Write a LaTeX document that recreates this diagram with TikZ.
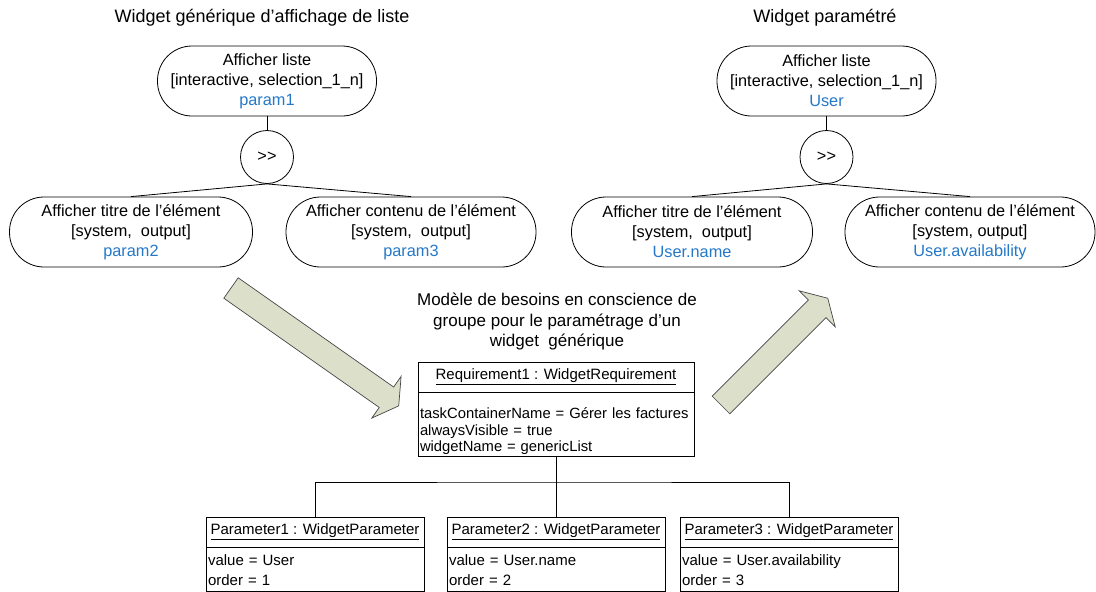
\documentclass[tikz,border=0pt]{standalone}
\usepackage{fontspec}
\setmainfont{Liberation Sans}
\usepackage{tikz}
\usetikzlibrary{positioning,calc}
\usepackage{xcolor}
\definecolor{parblue}{RGB}{36,120,200}
\definecolor{arrowfill}{RGB}{220,224,202}
\definecolor{arrowline}{RGB}{70,70,70}

\begin{document}
\begin{tikzpicture}[
    x=1pt, y=-1pt, line width=0.8pt,
    task/.style={draw, rounded corners=34.5pt, minimum height=70pt, align=center, inner sep=2pt, font=\fontsize{16.3}{20}\selectfont},
    op/.style={draw, circle, minimum size=53pt, inner sep=0pt, font=\fontsize{16.3}{20}\selectfont},
    ttl/.style={font=\fontsize{18}{22}\selectfont},
    objhead/.style={draw, minimum height=30pt, inner sep=0pt, font=\fontsize{15}{18}\selectfont},
    objbody/.style 2 args={draw, inner sep=2pt, align=left, font=\fontsize{#1}{#2}\selectfont},
    bigarrow/.style={draw=arrowline, fill=arrowfill, line width=0.7pt, line join=miter},
  ]
  \useasboundingbox (0,0) rectangle (1096,592);

  % generic widget
  \node[ttl] (titleL) at (262,18) {Widget générique d’affichage de liste};
  \node[task, minimum width=219pt] (L0) at (267,81) {Afficher liste\\{[}interactive, selection\_1\_n]\\\textcolor{parblue}{param1}};
  \node[op] (opL) at (267,157) {{>}{>}};
  \node[task, minimum width=243pt] (L1) at (131,232) {Afficher titre de l’élément\\{[}system, \ output]\\\textcolor{parblue}{param2}};
  \node[task, minimum width=250pt] (L2) at (411,232) {Afficher contenu de l’élément\\{[}system, \ output]\\\textcolor{parblue}{param3}};
  \draw (L0) -- (opL);
  \draw (opL.south) -- (L1.north);
  \draw (opL.south) -- (L2.north);

  % parametrized widget
  \node[ttl] (titleR) at (825,18) {Widget paramétré};
  \node[task, minimum width=219pt] (R0) at (826.5,81) {Afficher liste\\{[}interactive, selection\_1\_n]\\\textcolor{parblue}{User}};
  \node[op] (opR) at (826.5,157) {{>}{>}};
  \node[task, minimum width=241pt] (R1) at (692,232) {Afficher titre de l’élément\\{[}system, \ output]\\\textcolor{parblue}{User.name}};
  \node[task, minimum width=250pt] (R2) at (970,232) {Afficher contenu de l’élément\\{[}system, output]\\\textcolor{parblue}{User.availability}};
  \draw (R0) -- (opR);
  \draw (opR.south) -- (R1.north);
  \draw (opR.south) -- (R2.north);

  % requirement model
  \node[font=\fontsize{17}{20.5}\selectfont, align=center] (modelLbl) at (557,322) {Modèle de besoins en conscience de\\groupe pour le paramétrage d’un\\widget \ générique};
  \node[objhead, minimum width=276pt] (reqHead) at (556,377) {\underline{Requirement1 : WidgetRequirement}};
  \node[objbody={14.8}{16.5}, text width=272pt, minimum height=63pt, below=0pt of reqHead] (reqBody) {\rule{0pt}{24pt}taskContainerName = Gérer les factures\\alwaysVisible = true\\widgetName = genericList};

  \node[objhead, minimum width=218pt] (p1Head) at (315,532) {\underline{Parameter1 : WidgetParameter}};
  \node[objbody={15}{20}, text width=214pt, minimum height=44pt, below=0pt of p1Head] (p1Body) {value = User\\order = 1};
  \node[objhead, minimum width=218pt] (p2Head) at (556,532) {\underline{Parameter2 : WidgetParameter}};
  \node[objbody={15}{20}, text width=214pt, minimum height=44pt, below=0pt of p2Head] (p2Body) {value = User.name\\order = 2};
  \node[objhead, minimum width=218pt] (p3Head) at (789,532) {\underline{Parameter3 : WidgetParameter}};
  \node[objbody={15}{20}, text width=214pt, minimum height=44pt, below=0pt of p3Head] (p3Body) {value = User.availability\\order = 3};

  \coordinate (bus) at (556,482);
  \draw (reqBody.south) -- (bus);
  \draw (p1Head.north) |- (bus) -| (p3Head.north);
  \draw (bus) -- (p2Head.north);

  % big arrows
  \draw[bigarrow, shift={(231,288)}, rotate=-35.1]
    (0,-12.5) -- (190,-12.5) -- (190,-25.5) -- (205,0) -- (190,25.5) -- (190,12.5) -- (0,12.5) -- cycle;
  \draw[bigarrow, shift={(721,405)}, rotate=45]
    (0,-12.5) -- (136,-12.5) -- (136,-25.5) -- (151,0) -- (136,25.5) -- (136,12.5) -- (0,12.5) -- cycle;
\end{tikzpicture}
\end{document}
